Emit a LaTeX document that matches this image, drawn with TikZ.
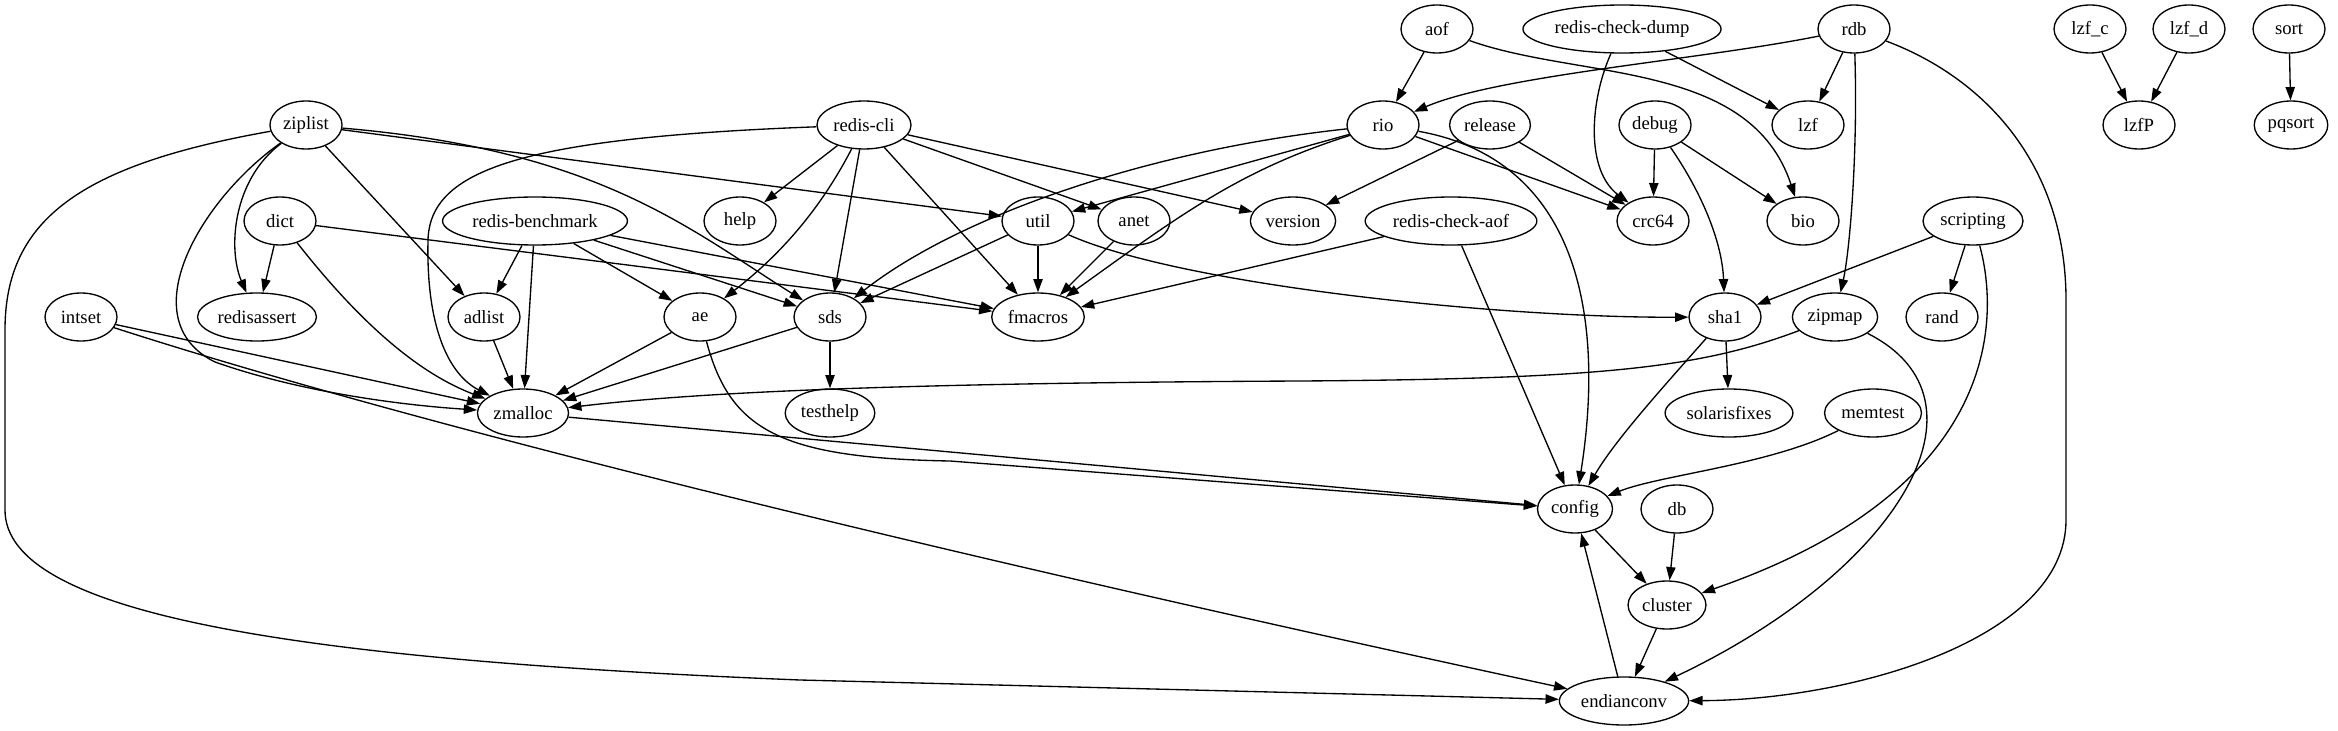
\documentclass[tikz,border=0pt]{standalone}
\usepackage{fontspec}
\setmainfont{Liberation Serif}
\usepackage{tikz}
\usetikzlibrary{arrows.meta,shapes.geometric}
\tikzset{%
	module/.style   = {draw, ellipse, line width=1pt, minimum width=54pt, minimum height=36pt,
	                   inner xsep=2pt, inner ysep=0pt, font=\fontsize{14pt}{16pt}\selectfont}, % Source file
	dep/.style      = {->, line width=1pt}, % Include edge
}

\begin{document}
\begin{tikzpicture}[x=0.75pt, y=-0.75pt, >={Triangle[length=10pt,width=7pt]}]
		\useasboundingbox (0,0) rectangle (2338,731);
		% rank 0
		\node[module] (aof) at (1437,29) {aof};
		\node[module] (checkdump) at (1622,29) {redis-check-dump};
		\node[module] (rdb) at (1854,29) {rdb};
		\node[module] (lzfc) at (2090,29) {lzf\_c};
		\node[module] (lzfd) at (2189,29) {lzf\_d};
		\node[module] (sort) at (2289,29) {sort};
		% rank 1
		\node[module] (ziplist) at (306,125) {ziplist};
		\node[module] (rediscli) at (864,125) {redis-cli};
		\node[module] (rio) at (1383,125) {rio};
		\node[module] (release) at (1490,125) {release};
		\node[module] (debug) at (1655,125) {debug};
		\node[module] (lzf) at (1808,125) {lzf};
		\node[module] (lzfP) at (2139,125) {lzfP};
		\node[module] (pqsort) at (2291,125) {pqsort};
		% rank 2
		\node[module] (dict) at (280,221) {dict};
		\node[module] (benchmark) at (535,221) {redis-benchmark};
		\node[module] (help) at (740,221) {help};
		\node[module] (util) at (1038,221) {util};
		\node[module] (anet) at (1134,221) {anet};
		\node[module] (version) at (1293,221) {version};
		\node[module] (checkaof) at (1451,221) {redis-check-aof};
		\node[module] (crc) at (1653,221) {crc64};
		\node[module] (bio) at (1803,221) {bio};
		\node[module] (scripting) at (1973,221) {scripting};
		% rank 3
		\node[module] (intset) at (81,317) {intset};
		\node[module] (redisassert) at (257,317) {redisassert};
		\node[module] (adlist) at (484,317) {adlist};
		\node[module] (ae) at (700,317) {ae};
		\node[module] (sds) at (830,317) {sds};
		\node[module] (fmacros) at (1038,317) {fmacros};
		\node[module] (sha) at (1725,317) {sha1};
		\node[module] (zipmap) at (1835,317) {zipmap};
		\node[module] (rand) at (1942,317) {rand};
		% rank 4 and below
		\node[module] (zmalloc) at (523,413) {zmalloc};
		\node[module] (testhelp) at (830,413) {testhelp};
		\node[module] (solarisfixes) at (1729,413) {solarisfixes};
		\node[module] (memtest) at (1873,413) {memtest};
		\node[module] (config) at (1575,509) {config};
		\node[module] (db) at (1677,509) {db};
		\node[module] (cluster) at (1667,605) {cluster};
		\node[module] (endianconv) at (1624,701) {endianconv};

		% ziplist, intset, dict
		\draw[dep] (ziplist) .. controls (80,165) and (5,220) .. (5,330) -- (5,510) .. controls (5,615) and (300,660) .. (800,680) -- (endianconv);
		\draw[dep] (ziplist) .. controls (232,180) and (228,250) .. (redisassert);
		\draw[dep] (ziplist) .. controls (200,200) and (130,320) .. (215,362) .. controls (300,392) and (400,405) .. (zmalloc);
		\draw[dep] (ziplist) -- (adlist);
		\draw[dep] (ziplist) -- (util);
		\draw[dep] (ziplist) .. controls (600,150) and (690,230) .. (sds);
		\draw[dep] (intset) -- (zmalloc);
		\draw[dep] (intset) .. controls (400,420) and (900,545) .. (endianconv);
		\draw[dep] (dict) -- (redisassert);
		\draw[dep] (dict) .. controls (350,310) and (410,370) .. (zmalloc);
		\draw[dep] (dict) -- (fmacros);
		% redis-benchmark, redis-cli
		\draw[dep] (benchmark) -- (adlist);
		\draw[dep] (benchmark) -- (zmalloc);
		\draw[dep] (benchmark) -- (ae);
		\draw[dep] (benchmark) -- (sds);
		\draw[dep] (benchmark) -- (fmacros);
		\draw[dep] (adlist) -- (zmalloc);
		\draw[dep] (rediscli) .. controls (520,138) and (430,170) .. (428,240) .. controls (426,330) and (450,375) .. (zmalloc);
		\draw[dep] (rediscli) -- (help);
		\draw[dep] (rediscli) .. controls (820,210) and (780,255) .. (ae);
		\draw[dep] (rediscli) -- (sds);
		\draw[dep] (rediscli) -- (fmacros);
		\draw[dep] (rediscli) -- (anet);
		\draw[dep] (rediscli) -- (version);
		% rio, aof, rdb
		\draw[dep] (rio) .. controls (1150,150) and (960,215) .. (sds);
		\draw[dep] (rio) -- (util);
		\draw[dep] (rio) .. controls (1240,170) and (1180,215) .. (fmacros);
		\draw[dep] (rio) -- (crc);
		\draw[dep] (rio) .. controls (1580,160) and (1605,320) .. (config);
		\draw[dep] (aof) -- (rio);
		\draw[dep] (aof) .. controls (1580,80) and (1750,60) .. (bio);
		\draw[dep] (checkdump) .. controls (1590,100) and (1585,170) .. (crc);
		\draw[dep] (checkdump) -- (lzf);
		\draw[dep] (rdb) .. controls (1700,60) and (1500,75) .. (rio);
		\draw[dep] (rdb) -- (lzf);
		\draw[dep] (rdb) .. controls (1858,150) and (1850,250) .. (zipmap);
		\draw[dep] (rdb) .. controls (1990,80) and (2066,170) .. (2066,300) -- (2066,520) .. controls (2066,640) and (1850,700) .. (endianconv);
		\draw[dep] (lzfc) -- (lzfP);
		\draw[dep] (lzfd) -- (lzfP);
		\draw[dep] (sort) -- (pqsort);
		\draw[dep] (release) -- (version);
		\draw[dep] (release) -- (crc);
		\draw[dep] (debug) -- (crc);
		\draw[dep] (debug) -- (bio);
		\draw[dep] (debug) .. controls (1700,190) and (1722,240) .. (sha);
		\draw[dep] (checkaof) -- (fmacros);
		\draw[dep] (checkaof) -- (config);
		% middle ranks
		\draw[dep] (util) -- (sds);
		\draw[dep] (util) -- (fmacros);
		\draw[dep] (util) .. controls (1180,285) and (1500,318) .. (sha);
		\draw[dep] (anet) -- (fmacros);
		\draw[dep] (ae) -- (zmalloc);
		\draw[dep] (ae) .. controls (730,430) and (780,458) .. (950,461) -- (config);
		\draw[dep] (sds) -- (zmalloc);
		\draw[dep] (sds) -- (testhelp);
		\draw[dep] (zmalloc) -- (config);
		\draw[dep] (sha) -- (solarisfixes);
		\draw[dep] (sha) .. controls (1665,385) and (1615,440) .. (config);
		\draw[dep] (zipmap) .. controls (1700,368) and (1600,379) .. (1300,381) .. controls (900,383) and (700,392) .. (zmalloc);
		\draw[dep] (zipmap) .. controls (2000,400) and (1900,570) .. (endianconv);
		\draw[dep] (memtest) .. controls (1770,465) and (1660,475) .. (config);
		\draw[dep] (scripting) -- (sha);
		\draw[dep] (scripting) -- (rand);
		\draw[dep] (scripting) .. controls (2000,320) and (2000,490) .. (cluster);
		% bottom
		\draw[dep] (config) -- (cluster);
		\draw[dep] (db) -- (cluster);
		\draw[dep] (cluster) -- (endianconv);
		\draw[dep] (endianconv) -- (config);
\end{tikzpicture}
\end{document}
